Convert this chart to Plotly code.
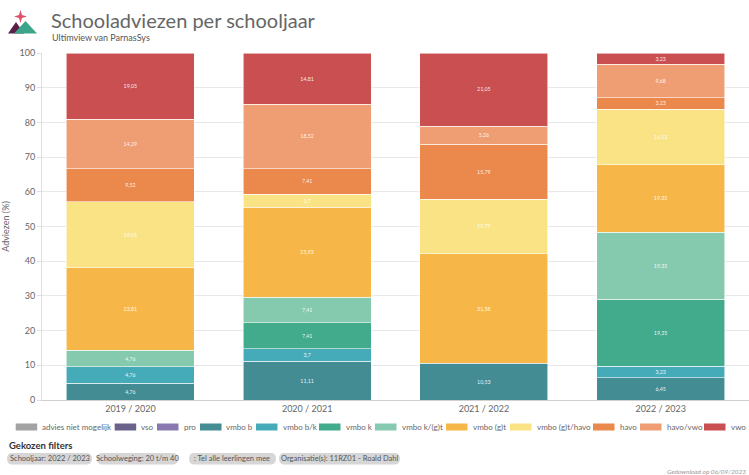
import plotly.graph_objects as go

W, H = 749, 475
L, R, T, B = 42, 0, 53, 75

years = ["2019 / 2020", "2020 / 2021", "2021 / 2022", "2022 / 2023"]

series_names = ["advies niet mogelijk", "vso", "pro", "vmbo b", "vmbo b/k", "vmbo k",
                "vmbo k/(g)t", "vmbo (g)t", "vmbo (g)t/havo", "havo", "havo/vwo", "vwo"]

advies_niet_mogelijk = [None, None, None, None]
vso = [None, None, None, None]
pro = [None, None, None, None]
vmbo_b = [4.76, 11.11, 10.53, 6.45]
vmbo_bk = [4.76, 3.7, None, 3.23]
vmbo_k = [None, 7.41, None, 19.35]
vmbo_kgt = [4.76, 7.41, None, 19.35]
vmbo_gt = [23.81, 25.93, 31.58, 19.35]
vmbo_gt_havo = [19.05, 3.7, 15.79, 16.13]
havo = [9.52, 7.41, 15.79, 3.23]
havo_vwo = [14.29, 18.52, 5.26, 9.68]
vwo = [19.05, 14.81, 21.05, 3.23]

series_values = [advies_niet_mogelijk, vso, pro, vmbo_b, vmbo_bk, vmbo_k, vmbo_kgt,
                 vmbo_gt, vmbo_gt_havo, havo, havo_vwo, vwo]

colors = ["#a3a3a3", "#6a6289", "#8a79b0", "#438c94", "#45abb9", "#41ab8c",
          "#85caaf", "#f7b748", "#fae385", "#eb884b", "#ef9d72", "#c94f50"]

filters = ["Schooljaar: 2022 / 2023", "Schoolweging: 20 t/m 40",
           ": Tel alle leerlingen mee", "Organisatie(s): 11RZ01 - Roald Dahl"]

FONT = "Lato"

# layout helpers (pixel -> paper)
def px(x):
    return (x - L) / (W - L - R)

def py(y):
    return (H - B - y) / (H - T - B)

def fmt(v):
    if v is None:
        return None
    return f"{v:g}".replace(".", ",")

fig = go.Figure()
for name, vals, col in zip(series_names, series_values, colors):
    fig.add_trace(go.Bar(
        x=years, y=vals, name=name,
        marker=dict(color=col, line=dict(color="rgba(255,255,255,0.7)", width=0.8)),
        text=[fmt(v) for v in vals], textposition="inside", insidetextanchor="middle",
        textfont=dict(size=7, color="rgba(255,255,255,0.9)", family=FONT),
        showlegend=False, hoverinfo="skip",
    ))

shapes = []
annotations = []

# custom legend
legend_x = [15.7, 114.7, 157, 200, 256, 319, 375, 446, 510, 593, 640, 704]
for name, col, lx in zip(series_names, colors, legend_x):
    shapes.append(dict(type="rect", xref="paper", yref="paper",
                       x0=px(lx), x1=px(lx + 21.5), y0=py(430.5), y1=py(423.5),
                       fillcolor=col, line=dict(width=0), layer="above"))
    annotations.append(dict(text=name, xref="paper", yref="paper", x=px(lx + 24.5), y=py(427),
                            xanchor="left", yanchor="middle", showarrow=False,
                            font=dict(size=8, color="#666", family=FONT)))

# title
annotations.append(dict(text="Schooladviezen per schooljaar", xref="paper", yref="paper",
                        x=px(49), y=py(20), xanchor="left", yanchor="middle", showarrow=False,
                        font=dict(size=20, color="#666", family=FONT)))
annotations.append(dict(text="Ultimview van ParnasSys", xref="paper", yref="paper",
                        x=px(49.5), y=py(38), xanchor="left", yanchor="middle", showarrow=False,
                        font=dict(size=9, color="#555", family=FONT)))

# logo
def path(points):
    return "M " + " L ".join(f"{px(x)},{py(y)}" for x, y in points) + " Z"

shapes.append(dict(type="path", xref="paper", yref="paper",
                   path=path([(8, 33.5), (16, 22), (24, 33.5)]),
                   fillcolor="#5a1e47", line=dict(width=0)))
shapes.append(dict(type="path", xref="paper", yref="paper",
                   path=path([(14, 33.5), (25.5, 21), (37, 33.5)]),
                   fillcolor="#3aa58a", line=dict(width=0)))
shapes.append(dict(type="path", xref="paper", yref="paper",
                   path=path([(20.5, 10), (22, 15), (27, 16.5), (22, 18), (20.5, 23),
                              (19, 18), (14, 16.5), (19, 15)]),
                   fillcolor="#e0506c", line=dict(width=0)))

# filters
annotations.append(dict(text="<b>Gekozen filters</b>", xref="paper", yref="paper",
                        x=px(7), y=py(445), xanchor="left", yanchor="middle", showarrow=False,
                        font=dict(size=9.5, color="#333", family=FONT)))
pill_x = [(7, 92), (97, 178), (189, 276), (279, 400)]
for txt, (x0, x1) in zip(filters, pill_x):
    r = 5.5
    y0, y1 = 453, 464.5
    ym = (y0 + y1) / 2
    p = (f"M {px(x0 + r)},{py(y0)} L {px(x1 - r)},{py(y0)} "
         f"Q {px(x1)},{py(y0)} {px(x1)},{py(ym)} Q {px(x1)},{py(y1)} {px(x1 - r)},{py(y1)} "
         f"L {px(x0 + r)},{py(y1)} Q {px(x0)},{py(y1)} {px(x0)},{py(ym)} "
         f"Q {px(x0)},{py(y0)} {px(x0 + r)},{py(y0)} Z")
    shapes.append(dict(type="path", xref="paper", yref="paper", path=p,
                       fillcolor="#d6d6d6", line=dict(width=0)))
    annotations.append(dict(text=txt, xref="paper", yref="paper", x=px((x0 + x1) / 2), y=py(ym),
                            xanchor="center", yanchor="middle", showarrow=False,
                            font=dict(size=7.5, color="#555", family=FONT)))

annotations.append(dict(text="<i>Gedownload op 06/09/2023</i>", xref="paper", yref="paper",
                        x=px(748), y=py(471.5), xanchor="right", yanchor="middle", showarrow=False,
                        font=dict(size=6.5, color="#999", family=FONT)))

fig.update_layout(
    width=W, height=H, barmode="stack", bargap=0.276,
    margin=dict(l=L, r=R, t=T, b=B, pad=0),
    paper_bgcolor="white", plot_bgcolor="white",
    font=dict(family=FONT, color="#666"),
    shapes=shapes, annotations=annotations,
    xaxis=dict(showgrid=False, showline=True, linecolor="#d0d0d0", linewidth=1,
               ticks="", tickfont=dict(size=9, color="#666"), fixedrange=True),
    yaxis=dict(range=[0, 100], dtick=10, showgrid=True, gridcolor="#e8e8e8",
               showline=True, linecolor="#e0e0e0", zeroline=False,
               ticks="outside", ticklen=4, tickcolor="#e0e0e0",
               tickfont=dict(size=9, color="#666"), fixedrange=True,
               title=dict(text="Adviezen (%)", font=dict(size=9, color="#666"), standoff=8)),
    uniformtext=dict(minsize=5, mode="show"),
)

fig.write_html("out.html", config={"displayModeBar": False},
               post_script="document.body.style.margin='0';")
